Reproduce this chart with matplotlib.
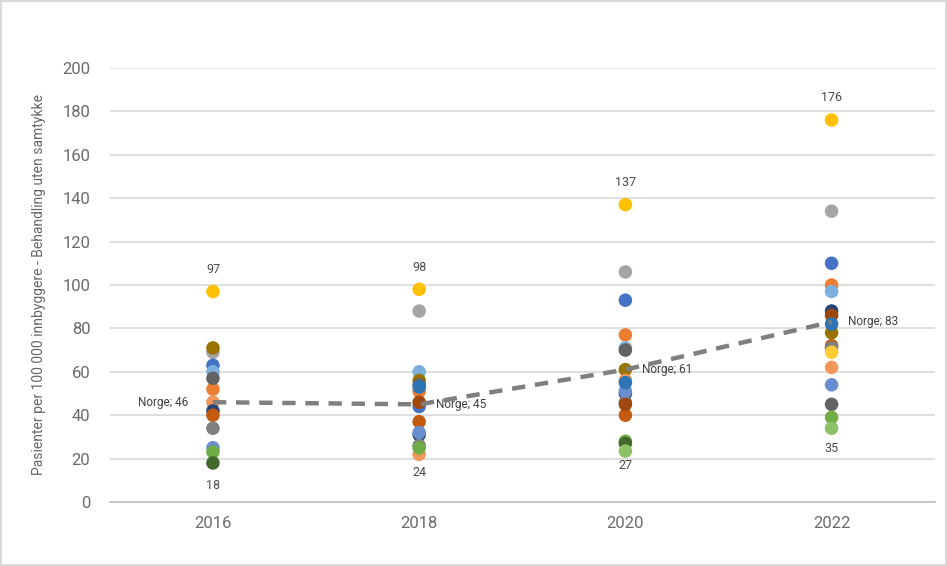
import numpy as np
import matplotlib.pyplot as plt
from matplotlib.patches import Rectangle

plt.rcParams['font.family'] = ['Roboto', 'DejaVu Sans']

# Years on the x axis
years = ['2016', '2018', '2020', '2022']

# One list per health area: patients per 100 000 (nan = not shown that year)
nan = np.nan
series_values = [
    [97, 98, 137, 176],
    [69, 88, 106, 134],
    [63, 44, 93, 110],
    [52, 51, 77, 100],
    [60, 60, 71, 97],
    [71, 56, 61, 78],
    [57, 54, 70, 45],
    [46, 22, 56, 62],
    [42, 31, 50, 88],
    [40, 37, 40, 72],
    [34, 26, 46, 71],
    [25, 32, 51, 54],
    [23, 25, 28, 39],
    [18, nan, 27, nan],
    [nan, nan, 23.5, 34],
    [nan, 46, 45, 86],
    [nan, 53, 55, 82],
    [nan, nan, nan, 69],
]
series_colors = [
    '#FFC000', '#A5A5A5', '#4472C4', '#ED7D31', '#7CAFDD', '#997300',
    '#636363', '#F1975A', '#264478', '#C55A11', '#7F7F7F', '#698ED0',
    '#70AD47', '#43682B', '#8CC168', '#9E480E', '#2E75B6', '#FFCD33',
]

norge = [46, 45, 61, 83]
max_labels = [97, 98, 137, 176]
min_labels = [18, 24, 27, 35]

fig = plt.figure(figsize=(9.47, 5.66), dpi=100)
fig.patches.append(Rectangle((0.001, 0.001), 0.998, 0.997, transform=fig.transFigure,
                             fill=False, edgecolor='#D9D9D9', lw=1.5))
ax = fig.add_axes([0.116, 0.113, 0.871, 0.767])

x = np.arange(len(years))
for vals, col in zip(series_values, series_colors):
    ax.scatter(x, vals, s=95, color=col, edgecolors='none', zorder=3)

ax.plot(x, norge, color='#7F7F7F', lw=3.2, ls=(0, (3, 2.2)), zorder=4)

txt = '#4a4a4a'
for i, v in enumerate(norge):
    if i == 0:
        ax.annotate(f'Norge; {v}', (i, v), xytext=(-18, 0), textcoords='offset points',
                    ha='right', va='center', fontsize=8.5, color='#404040')
    else:
        ax.annotate(f'Norge; {v}', (i, v), xytext=(12, 0), textcoords='offset points',
                    ha='left', va='center', fontsize=8.5, color='#404040')

for i, v in enumerate(max_labels):
    ax.annotate(str(v), (i, v), xytext=(0, 16), textcoords='offset points',
                ha='center', va='center', fontsize=9, color=txt)
for i, v in enumerate(min_labels):
    ax.annotate(str(v), (i, v), xytext=(0, -16), textcoords='offset points',
                ha='center', va='center', fontsize=9, color=txt)

ax.set_xlim(-0.5, 3.5)
ax.set_ylim(0, 200)
ax.set_yticks(np.arange(0, 201, 20))
ax.set_xticks(x)
ax.set_xticklabels(years)
ax.grid(axis='y', color='#D9D9D9', lw=1.2)
ax.set_axisbelow(True)
for s in ['top', 'right', 'left']:
    ax.spines[s].set_visible(False)
ax.spines['bottom'].set_color('#BFBFBF')
ax.spines['bottom'].set_linewidth(1.2)
ax.tick_params(length=0, labelsize=12, colors='#6b6b6b', pad=10)
ax.tick_params(axis='y', pad=14)
ax.set_ylabel('Pasienter per 100 000 innbyggere - Behandling uten samtykke',
              fontsize=10, color='#666666', labelpad=12)

fig.savefig('out.png', dpi=100)
